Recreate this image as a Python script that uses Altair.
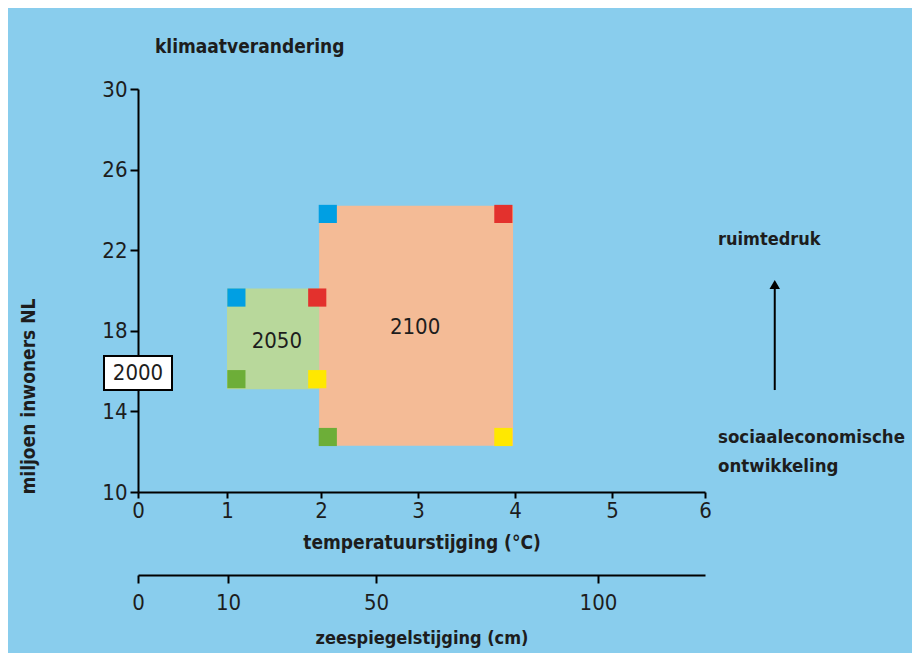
import altair as alt
import pandas as pd

FONT = "DejaVu Sans Condensed, Liberation Sans Narrow, Roboto Condensed, Roboto, sans-serif"
INK = "#1d1d1d"

# ---- axes ----
x_ticks = [0, 1, 2, 3, 4, 5, 6]
x_range_px = [0, 89, 183, 280, 377, 474, 567]
y_ticks = [10, 14, 18, 22, 26, 30]
sea_ticks = [0, 10, 50, 100]
sea_domain = [0, 10, 50, 100, 124]
sea_range_px = [0, 90, 238, 460, 567]

# ---- scenario blocks ----
periods = ["2050", "2100"]
x_start = [1.0, 1.98]
x_end = [1.98, 3.98]
y_low = [15.1, 12.3]
y_high = [20.1, 24.2]
block_colors = ["#B8D89B", "#F4BB96"]
label_x = [1.53, 2.97]
label_y = [17.5, 18.2]

# ---- corner markers ----
marker_x = [1.10, 1.96, 1.10, 1.96, 2.07, 3.88, 2.07, 3.88]
marker_y = [19.65, 19.65, 15.6, 15.6, 23.8, 23.8, 12.73, 12.73]
marker_colors = ["#009FE3", "#E3312D", "#6DAE38", "#FFE800"] * 2

# ---- 2000 starting point ----
start_label = ["2000"]
start_x = [0]
start_y = [15.9]

# ---- annotations ----
note_text = ["klimaatverandering", "ruimtedruk", "sociaaleconomische", "ontwikkeling"]
note_x = [0.19, 6.14, 6.14, 6.14]
note_y = [32.1, 22.5, 12.73, 11.3]
note_weight = ["bold", "bold", "normal", "normal"]
note_size = [19, 18, 18.5, 18.5]
arrow_x = [6.75]
arrow_y0 = [15.06]
arrow_y1 = [20.3]

W, H = 567, 403

x_scale = alt.Scale(domain=x_ticks, range=x_range_px)
y_scale = alt.Scale(domain=[10, 30])

x_axis = alt.Axis(values=x_ticks, title="temperatuurstijging (°C)", tickSize=6,
                  labelPadding=2, labelFontSize=22, labelFlush=False,
                  titleFontSize=19, titleFontWeight=600, titlePadding=12,
                  grid=False)
y_axis = alt.Axis(values=y_ticks, title="miljoen inwoners NL", tickSize=8,
                  labelPadding=3, labelFontSize=22, labelFlush=False,
                  titleFontSize=19, titleFontWeight="bold", titleX=-110,
                  titleY=H + 2, titleAlign="left", titleBaseline="middle",
                  grid=False)


def X(field="x"):
    return alt.X(f"{field}:Q", scale=x_scale, axis=x_axis)


def Y(field="y"):
    return alt.Y(f"{field}:Q", scale=y_scale, axis=y_axis)


blocks = pd.DataFrame({"period": periods, "x": x_start, "x2": x_end,
                       "y": y_low, "y2": y_high, "c": block_colors,
                       "lx": label_x, "ly": label_y})
markers = pd.DataFrame({"x": marker_x, "y": marker_y, "c": marker_colors})
start = pd.DataFrame({"t": start_label, "x": start_x, "y": start_y})
notes = pd.DataFrame({"t": note_text, "x": note_x, "y": note_y,
                      "w": note_weight, "s": note_size})
arrow = pd.DataFrame({"x": arrow_x, "y": arrow_y0, "y2": arrow_y1})
sea = pd.DataFrame({"cm": sea_ticks})

rects = alt.Chart(blocks).mark_rect().encode(
    x=X(), x2="x2", y=Y(), y2="y2", color=alt.Color("c:N", scale=None))

block_labels = alt.Chart(blocks).mark_text(fontSize=22, color=INK, font=FONT).encode(
    x=X("lx"), y=Y("ly"), text="period:N")

corner = alt.Chart(markers).mark_square(size=330, opacity=1, filled=True).encode(
    x=X(), y=Y(), color=alt.Color("c:N", scale=None))

start_box = alt.Chart(start).mark_rect(
    fill="white", stroke="black", strokeWidth=2,
    xOffset=-34, x2Offset=34, yOffset=-17, y2Offset=17).encode(
    x=X(), x2="x", y=Y(), y2="y")

start_text = alt.Chart(start).mark_text(fontSize=22, color=INK, font=FONT).encode(
    x=X(), y=Y(), text="t:N")

note_bold = alt.Chart(notes[notes.w == "bold"]).mark_text(
    align="left", baseline="middle", fontWeight="bold",
    color=INK, font=FONT).encode(
    x=X(), y=Y(), text="t:N", size=alt.Size("s:Q", scale=None))

note_reg = alt.Chart(notes[notes.w == "normal"]).mark_text(
    align="left", baseline="middle", fontWeight=600,
    color=INK, font=FONT).encode(
    x=X(), y=Y(), text="t:N", size=alt.Size("s:Q", scale=None))

arrow_shaft = alt.Chart(arrow).mark_rule(color="black", strokeWidth=2).encode(
    x=X(), y=Y(), y2="y2")

arrow_head = alt.Chart(arrow).mark_point(
    shape="triangle-up", filled=True, color="black", size=110, opacity=1).encode(
    x=X(), y=Y("y2"))

main = alt.layer(rects, corner, block_labels, start_box, start_text,
                 note_bold, note_reg, arrow_shaft, arrow_head)

sea_axis = alt.Chart(sea).mark_point(opacity=0).encode(
    x=alt.X("cm:Q", scale=alt.Scale(domain=sea_domain, range=sea_range_px),
            axis=alt.Axis(orient="bottom", offset=83, values=sea_ticks,
                          title="zeespiegelstijging (cm)", tickSize=8,
                          labelPadding=9, labelFontSize=22, labelFlush=False,
                          titleFontSize=18, titleFontWeight=600,
                          titlePadding=16, grid=False)),
    y=alt.value(0))

chart = alt.layer(main, sea_axis).resolve_scale(x="independent").resolve_axis(
    x="independent").properties(
    width=W, height=H,
    autosize=alt.AutoSizeParams(type="none"),
    padding={"left": 130, "top": 81, "right": 207, "bottom": 161},
    background="#89CDED",
).configure_view(stroke=None).configure_axis(
    domainColor="black", domainWidth=2, tickColor="black", tickWidth=2,
    labelColor=INK, titleColor=INK, labelFont=FONT, titleFont=FONT,
).configure_text(font=FONT)

chart.save("out.html", embed_options={"renderer": "svg", "actions": False})
